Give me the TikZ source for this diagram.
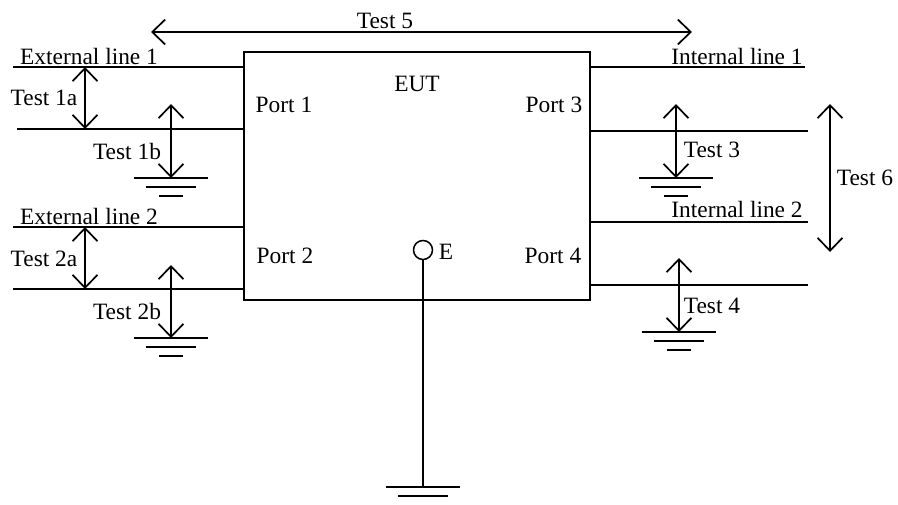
\documentclass[tikz,border=0pt]{standalone}
\usepackage{fontspec}
\setmainfont{Liberation Serif}
\usetikzlibrary{arrows.meta, positioning}

\begin{document}
\begin{tikzpicture}[
    x=1pt,
    y=-1pt,
    eut/.style={
        draw=black,
        line width=1.5pt,
        minimum width=346pt,
        minimum height=248pt,
        inner sep=0pt
    },
    lbl/.style={
        font=\fontsize{23.4}{26}\selectfont,
        inner sep=0pt
    },
    wire/.style={
        line width=1.7pt,
        draw=black
    },
    test/.style={
        {Straight Barb[length=13pt,width=25pt]}-{Straight Barb[length=13pt,width=25pt]},
        line width=1.7pt,
        draw=black
    },
    earth/.pic={
        \draw [wire] (-37,0) -- (37,0);
        \draw [wire] (-25,9) -- (25,9);
        \draw [wire] (-12,18) -- (12,18);
    }
]
\useasboundingbox (0,0) rectangle (898,504);

% Nodes
\node (box) [eut] at (417,176) {};
\node (name) [lbl] at (417,84) {EUT};
\node (port1) [lbl] at (284,105) {Port 1};
\node (port2) [lbl] at (285,256) {Port 2};
\node (port3) [lbl] at (554,105) {Port 3};
\node (port4) [lbl] at (553,256) {Port 4};
\node (term) [circle, draw=black, line width=1.5pt, minimum size=19pt, inner sep=0pt] at (423,250) {};
\node (termname) [lbl] at (446,252) {E};

\node (ext1) [lbl] at (89,56) {External line 1};
\node (ext2) [lbl] at (89,216) {External line 2};
\node (int1) [lbl] at (737,56) {Internal line 1};
\node (int2) [lbl] at (737,209) {Internal line 2};
\node (t1a) [lbl] at (44,98) {Test 1a};
\node (t1b) [lbl] at (127,151) {Test 1b};
\node (t2a) [lbl] at (44,259) {Test 2a};
\node (t2b) [lbl] at (127,311) {Test 2b};
\node (t3) [lbl] at (712,150) {Test 3};
\node (t4) [lbl] at (712,306) {Test 4};
\node (t5) [lbl] at (385,21) {Test 5};
\node (t6) [lbl] at (865,178) {Test 6};

% Line ends
\coordinate (e1a) at (13,67);
\coordinate (e1b) at (17,129);
\coordinate (e2a) at (13,227);
\coordinate (e2b) at (13,289);
\coordinate (i1a) at (805,67);
\coordinate (i1b) at (808,131);
\coordinate (i2a) at (808,222);
\coordinate (i2b) at (808,285);

% Earth bars
\coordinate (g1) at (171,178);
\coordinate (g2) at (171,338);
\coordinate (g3) at (676,178);
\coordinate (g4) at (679,332);
\coordinate (g5) at (423,487);
\pic at (g1) {earth};
\pic at (g2) {earth};
\pic at (g3) {earth};
\pic at (g4) {earth};
\draw [wire] (386,487) -- (g5) -- (460,487);
\draw [wire] (398,496) -- (448,496);

% Arrow ends
\coordinate (a1a) at (85,67);
\coordinate (b1a) at (85,129);
\coordinate (a2a) at (85,227);
\coordinate (b2a) at (85,289);
\coordinate (a1b) at (171,104);
\coordinate (a2b) at (171,265);
\coordinate (a3) at (676,104);
\coordinate (a4) at (679,258);
\coordinate (a5) at (151,32);
\coordinate (b5) at (692,32);
\coordinate (a6) at (830,104);
\coordinate (b6) at (830,252);

% Paths
\draw [wire] (e1a) -- (e1a -| box.west);
\draw [wire] (e1b) -- (e1b -| box.west);
\draw [wire] (e2a) -- (e2a -| box.west);
\draw [wire] (e2b) -- (e2b -| box.west);
\draw [wire] (i1a) -- (i1a -| box.east);
\draw [wire] (i1b) -- (i1b -| box.east);
\draw [wire] (i2a) -- (i2a -| box.east);
\draw [wire] (i2b) -- (i2b -| box.east);
\draw [wire] (term.south) -- (g5);

\draw [test] (a1a) -- (b1a);
\draw [test] (a2a) -- (b2a);
\draw [test] (a1b) -- (g1);
\draw [test] (a2b) -- (g2);
\draw [test] (a3) -- (g3);
\draw [test] (a4) -- (g4);
\draw [test] (a5) -- (b5);
\draw [test] (a6) -- (b6);

\end{tikzpicture}
\end{document}
